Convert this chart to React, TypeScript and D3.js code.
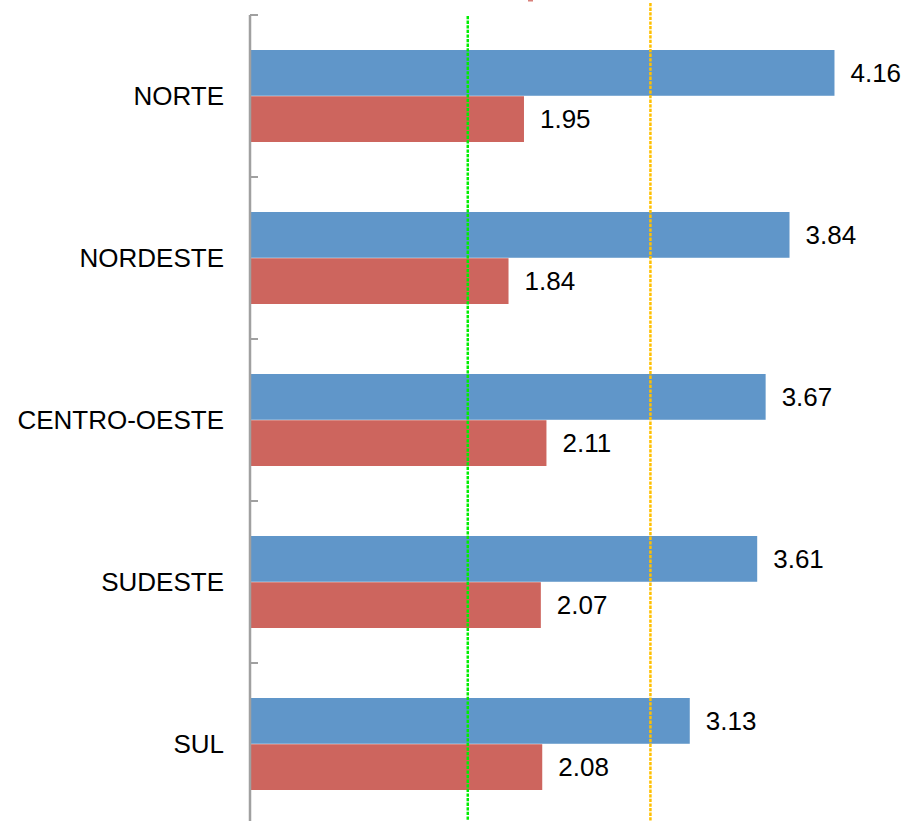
import React from "react";
import * as d3 from "d3";

const categories = ["NORTE", "NORDESTE", "CENTRO-OESTE", "SUDESTE", "SUL"];
const seriesA = [4.16, 3.84, 3.67, 3.61, 3.13];
const seriesB = [1.95, 1.84, 2.11, 2.07, 2.08];
const seriesNames = ["A", "B"];
const refGreen = 1.55;
const refYellow = 2.85;

const W = 908;
const H = 821;

export default function App() {
  const x = d3.scaleLinear().domain([0, 1]).range([250, 390.5]);
  const y = d3.scaleBand<string>().domain(categories).range([15, 825]).paddingInner(0).paddingOuter(0);
  const bw = y.bandwidth();
  const inner = d3.scaleBand<string>().domain(seriesNames).range([35, bw - 35]).paddingInner(0.01);
  const colors = ["#6096c9", "#cd655e"];
  const font = "'Liberation Sans', Arial, sans-serif";
  const series = [seriesA, seriesB];
  const tickYs = categories.map((c) => y(c) as number).concat([825]);

  return (
    <svg width={W} height={H} style={{ position: "absolute", left: 0, top: 0, background: "#fff" }} fontFamily={font}>
      {series.map((vals, si) =>
        vals.map((v, i) => {
          const by = (y(categories[i]) as number) + (inner(seriesNames[si]) as number);
          const bh = inner.bandwidth();
          return (
            <g key={`${si}-${i}`}>
              <rect x={x(0)} y={by} width={x(v) - x(0)} height={bh} fill={colors[si]} />
              <text x={x(v) + 16} y={by + bh / 2 + 9} fontSize={26} fill="#000">
                {v.toFixed(2)}
              </text>
            </g>
          );
        })
      )}
      <line x1={x(refGreen)} x2={x(refGreen)} y1={16} y2={H} stroke="#00ee00" strokeWidth={2.5} strokeDasharray="3.3,1.3" />
      <line x1={x(refYellow)} x2={x(refYellow)} y1={3} y2={H} stroke="#ffc000" strokeWidth={2.5} strokeDasharray="3.3,1.3" />
      <line x1={250} x2={250} y1={15} y2={H} stroke="#a0a0a0" strokeWidth={2.5} />
      {tickYs.map((t, i) => (
        <line key={i} x1={250} x2={258} y1={t} y2={t} stroke="#a0a0a0" strokeWidth={2} />
      ))}
      {categories.map((c) => (
        <text key={c} x={224} y={(y(c) as number) + bw / 2 + 9} textAnchor="end" fontSize={26} fill="#000">
          {c}
        </text>
      ))}
      <rect x={528} y={0} width={5} height={1.5} fill="#d9807a" />
    </svg>
  );
}
